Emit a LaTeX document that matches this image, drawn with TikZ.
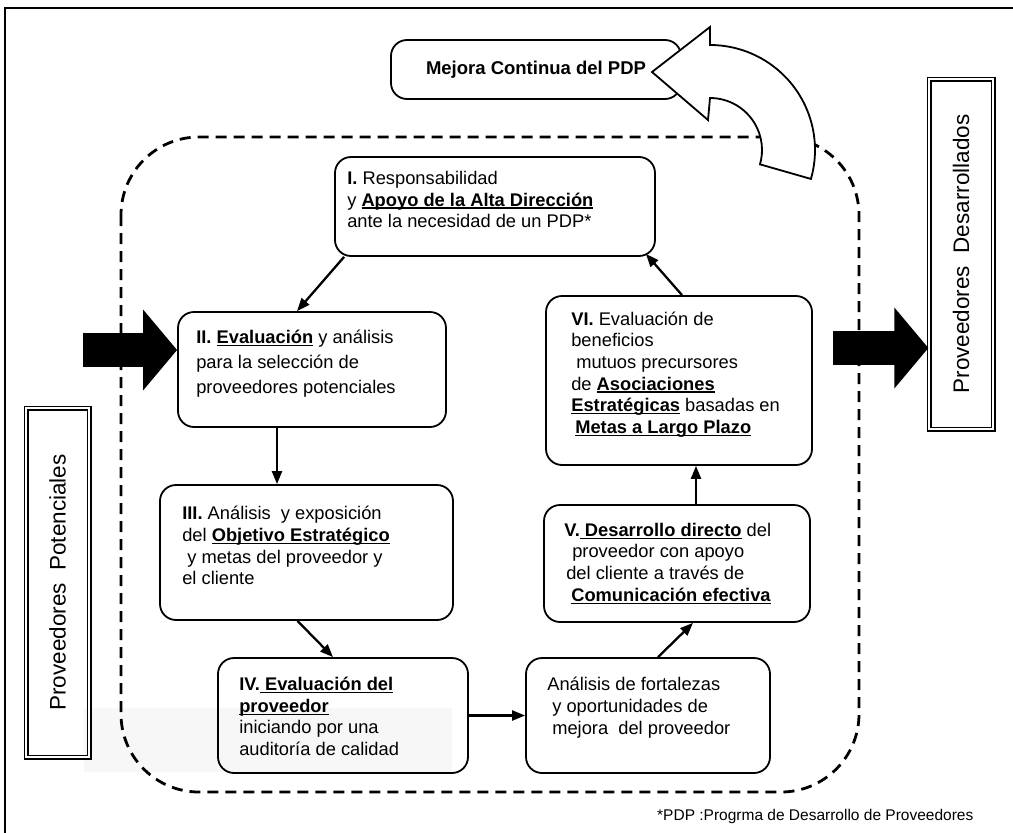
\documentclass[tikz,border=0pt]{standalone}
\usepackage{fontspec}
\setmainfont{Liberation Sans}
\usetikzlibrary{arrows.meta,calc}
\newsavebox\ulbox
\newcommand\ulx[1]{\sbox\ulbox{#1}\rlap{\rule[-2.6pt]{\wd\ulbox}{1.3pt}}\usebox\ulbox}
\begin{document}
\begin{tikzpicture}[x=1pt,y=1pt,
  box/.style={draw, line width=1.8pt, rounded corners=16pt, inner sep=0pt},
  txt/.style={font=\fontsize{18.3}{21.7}\selectfont, align=left, inner sep=0pt, anchor=west},
  conn/.style={line width=2.3pt, -{Triangle[length=13pt,width=10pt]}},
  blk/.style={line width=34pt, -{Triangle[length=34pt,width=79pt]}},
  sidebox/.style={draw, double, double distance=2.6pt, line width=1.2pt, rotate=90, inner sep=0pt,
    font=\fontsize{22.5}{27}\selectfont},
  dashframe/.style={line width=2.8pt, dash pattern=on 11pt off 7pt, rounded corners=78pt}]
\useasboundingbox (0,0) rectangle (1013,-833);
% faint scan shading
\fill[black!3] (84,-708) rectangle (452,-772);
% outer frame lines
\draw[line width=1.8pt] (5,-833) -- (5,-8) -- (1013,-8);
% dashed rounded frame
\draw[dashframe] (121,-137) rectangle (859,-792);
% Mejora box
\node[box, fill=white, minimum width=290pt, minimum height=59pt, font=\bfseries\fontsize{18.5}{22}\selectfont] (mj) at (536,-69.5) {Mejora Continua del PDP};
% curved arrow
\coordinate (C) at (710,-150);
\draw[line width=1.8pt, fill=white, line join=miter]
  ($(C)+(-16:105)$) arc[start angle=-16, end angle=90, radius=105]
  -- (710,-27) -- (652,-72) -- (708,-120) -- ($(C)+(90:52)$)
  arc[start angle=90, end angle=-16, radius=52] -- cycle;
% boxes
\node[box, minimum width=320pt, minimum height=99pt] (b1) at (495,-206.5) {};
\node[box, minimum width=268pt, minimum height=115pt] (b2) at (312,-369.5) {};
\node[box, minimum width=293pt, minimum height=135pt] (b3) at (306.5,-552.5) {};
\node[box, minimum width=250pt, minimum height=115pt] (b4) at (343,-715.5) {};
\node[box, minimum width=244pt, minimum height=115pt] (b5) at (648,-715.5) {};
\node[box, minimum width=266pt, minimum height=117pt] (b6) at (677,-563.5) {};
\node[box, minimum width=266pt, minimum height=169pt] (b7) at (679,-380.5) {};
% texts
\node[txt] (t1) at ([xshift=13pt,yshift=7pt]b1.west)
  {\textbf{I.} Responsabilidad\\ y \ulx{\textbf{Apoyo de la Alta Dirección}}\\ ante la necesidad de un PDP*};
\node[txt, font=\fontsize{18.3}{25}\selectfont] (t2) at ([xshift=19pt,yshift=6pt]b2.west)
  {\textbf{II.} \ulx{\textbf{Evaluación}} y análisis\\ para la selección de\\ proveedores potenciales};
\node[txt] (t3) at ([xshift=23pt,yshift=7pt]b3.west)
  {\textbf{III.} Análisis~ y exposición\\ del \ulx{\textbf{Objetivo Estratégico}}\\ \hspace*{5pt}y metas del proveedor y\\ el cliente};
\node[txt] (t4) at ([xshift=22pt,yshift=-1pt]b4.west)
  {\textbf{IV.}\ulx{\textbf{ Evaluación del}}\\ \ulx{\textbf{proveedor}}\\ iniciando por una\\ auditoría de calidad};
\node[txt] (t5) at ([xshift=22pt,yshift=8pt]b5.west)
  {Análisis de fortalezas\\ \hspace*{5pt}y oportunidades de\\ \hspace*{5pt}mejora~ del proveedor};
\node[txt] (t6) at ([xshift=21pt,yshift=0pt]b6.west)
  {\textbf{V.}\ulx{\textbf{ Desarrollo directo}} del\\ \hspace*{8pt}proveedor con apoyo\\ \hspace*{2pt}del cliente a través de\\ \hspace*{7pt}\ulx{\textbf{Comunicación efectiva}}};
\node[txt] (t7) at ([xshift=26pt,yshift=6pt]b7.west)
  {\textbf{VI.} Evaluación de\\ beneficios\\ \hspace*{5pt}mutuos precursores\\ de \ulx{\textbf{Asociaciones}}\\ \ulx{\textbf{Estratégicas}} basadas en\\ \hspace*{4pt}\ulx{\textbf{Metas a Largo Plazo}}};
% side boxes
\node[sidebox, minimum width=350pt, minimum height=64pt] (pd) at (961,-254) {Proveedores~~Desarrollados};
\node[sidebox, minimum width=349pt, minimum height=63pt] (pp) at (57.5,-582.5) {Proveedores~~Potenciales};
% connectors
\draw[conn] ([xshift=10pt]b1.south west) -- ([xshift=-15pt]b2.north);
\draw[conn] ([xshift=-35pt]b2.south) -- ([xshift=-35pt]b2.south |- b3.north);
\draw[conn] ([xshift=-9pt]b3.south) -- ([xshift=-10pt]b4.north);
\draw[conn] (b4.east) -- (b5.west);
\draw[conn] ([xshift=10pt]b5.north) -- ([xshift=16pt]b6.south);
\draw[conn] ([xshift=19pt]b6.north) -- ([xshift=19pt]b6.north |- b7.south);
\draw[conn] ([xshift=3pt]b7.north) -- ([xshift=-10pt,yshift=3pt]b1.south east);
% block arrows
\coordinate (la) at (83,-350);
\draw[blk] (la) -- (la -| b2.west);
\coordinate (ra) at (833,-348);
\draw[blk] (ra) -- (ra -| pd.north);
% footnote
\node[anchor=base west, inner sep=0pt, font=\fontsize{15.5}{18}\selectfont] (fn) at (657,-820) {*PDP :Progrma de Desarrollo de Proveedores};
\end{tikzpicture}
\end{document}
